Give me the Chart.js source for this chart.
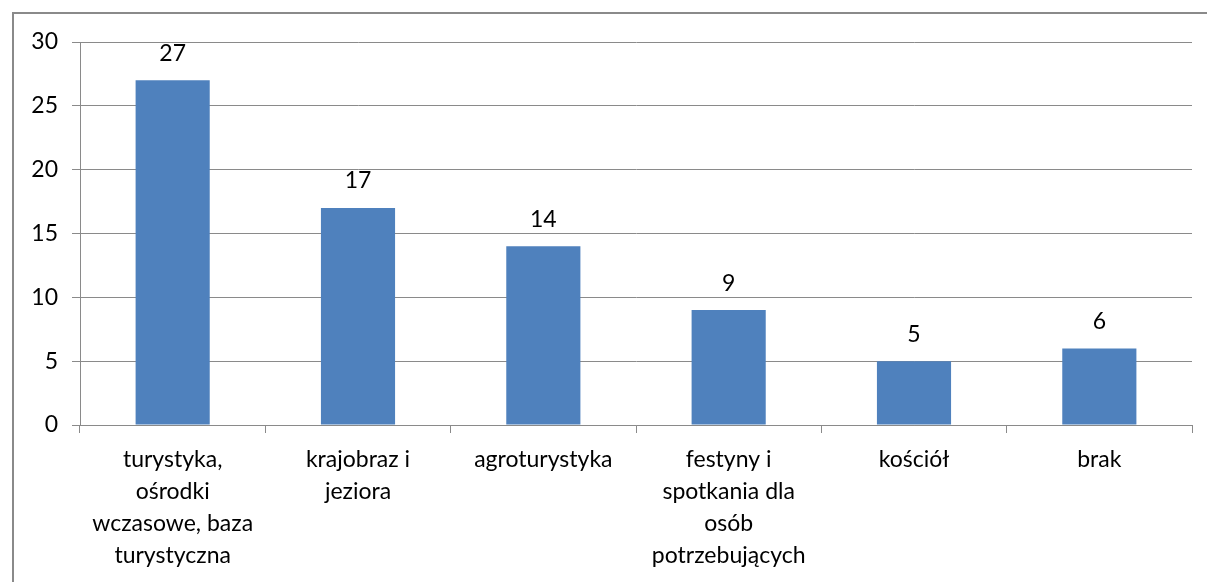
<!DOCTYPE html>
<html>
<head>
<meta charset="utf-8">
<script src="https://cdn.jsdelivr.net/npm/chart.js@4/dist/chart.umd.min.js"></script>
<style>
  html, body { margin: 0; padding: 0; background: #fff; }
  #wrap { width: 1207px; height: 582px; position: relative; }
</style>
</head>
<body>
<div id="wrap"><canvas id="barChart" width="1207" height="582"></canvas></div>
<script>
var categories = [
    ['turystyka,', 'ośrodki', 'wczasowe, baza', 'turystyczna'],
    ['krajobraz i', 'jeziora'],
    ['agroturystyka'],
    ['festyny i', 'spotkania dla', 'osób', 'potrzebujących'],
    ['kościół'],
    ['brak']
];
var values = [27, 17, 14, 9, 5, 6];
var yTicks = [0, 5, 10, 15, 20, 25, 30];

var fontFamily = 'Lato, "Open Sans", sans-serif';
var fontSize = 23;

// gray frame around the chart, cut by the window on the right and bottom
var framePlugin = {
    id: 'frame',
    beforeDraw: function (chart) {
        var ctx = chart.ctx;
        ctx.save();
        ctx.strokeStyle = '#8a8a8a';
        ctx.lineWidth = 2;
        ctx.strokeRect(13, 13, 1400, 800);
        ctx.restore();
    }
};

// value labels above the bars
var valueLabels = {
    id: 'valueLabels',
    afterDatasetsDraw: function (chart) {
        var ctx = chart.ctx;
        var meta = chart.getDatasetMeta(0);
        ctx.save();
        ctx.font = fontSize + 'px ' + fontFamily;
        ctx.fillStyle = '#000';
        ctx.textAlign = 'center';
        ctx.textBaseline = 'middle';
        meta.data.forEach(function (bar, i) {
            ctx.fillText(String(values[i]), bar.x, bar.y - 27);
        });
        ctx.restore();
    }
};

var ctx = document.getElementById('barChart').getContext('2d');
new Chart(ctx, {
    type: 'bar',
    data: {
        labels: categories,
        datasets: [{
            data: values,
            backgroundColor: '#4F81BD',
            categoryPercentage: 1,
            barPercentage: 0.4
        }]
    },
    options: {
        responsive: false,
        animation: false,
        layout: { padding: { left: 0, right: 15, top: 42, bottom: 0 } },
        plugins: {
            legend: { display: false },
            tooltip: { enabled: false }
        },
        scales: {
            x: {
                offset: true,
                grid: {
                    offset: true,
                    drawOnChartArea: false,
                    color: '#8a8a8a',
                    tickLength: 8,
                    tickColor: '#8a8a8a'
                },
                border: { color: '#8a8a8a' },
                ticks: {
                    color: '#000',
                    font: { family: fontFamily, size: fontSize, lineHeight: 32 / fontSize },
                    padding: 11,
                    maxRotation: 0,
                    autoSkip: false
                },
                afterFit: function (scale) { scale.height = 157; }
            },
            y: {
                min: 0,
                max: 30,
                afterBuildTicks: function (scale) {
                    scale.ticks = yTicks.map(function (v) { return { value: v }; });
                },
                grid: {
                    color: '#8a8a8a',
                    tickLength: 8,
                    tickColor: '#8a8a8a'
                },
                border: { color: '#8a8a8a' },
                ticks: {
                    color: '#000',
                    font: { family: fontFamily, size: fontSize },
                    padding: 14
                },
                afterFit: function (scale) { scale.width = 80; }
            }
        }
    },
    plugins: [framePlugin, valueLabels]
});
</script>
</body>
</html>
